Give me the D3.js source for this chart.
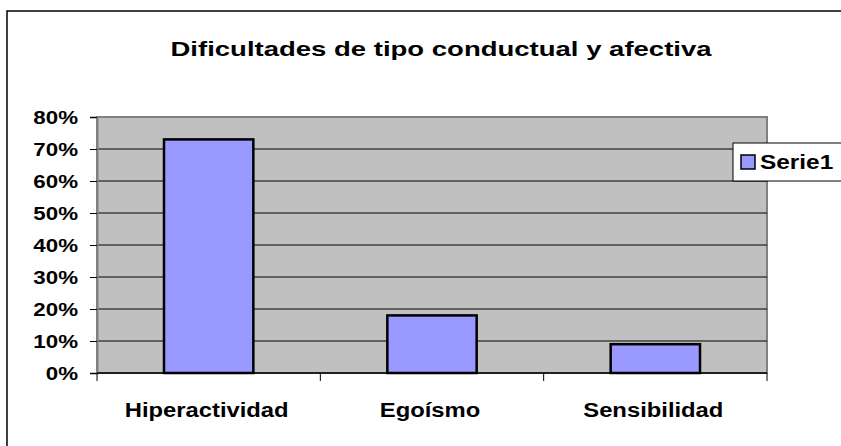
<!DOCTYPE html>
<html><head><meta charset="utf-8">
<script src="https://cdn.jsdelivr.net/npm/d3@7"></script>
<style>body{margin:0;background:#fff}svg{display:block;font-family:"Liberation Sans",Arial,sans-serif}</style>
</head><body>
<script>
const title = "Dificultades de tipo conductual y afectiva";
const categories = ["Hiperactividad", "Egoísmo", "Sensibilidad"];
const values = [0.73, 0.18, 0.09];
const seriesName = "Serie1";
const yTicks = [0, 0.1, 0.2, 0.3, 0.4, 0.5, 0.6, 0.7, 0.8];

const W = 841, H = 446;
const svg = d3.select("body").append("svg").attr("width", W).attr("height", H);

// text helper: horizontally stretched text (reference glyphs are wider than tall)
function stext(g, x, y, str, size, sx, anchor) {
  return g.append("text")
    .attr("transform", `translate(${x},${y}) scale(${sx},1)`)
    .attr("text-anchor", anchor || "start")
    .attr("font-size", size).attr("font-weight", "bold").attr("fill", "#000")
    .text(str);
}

// outer chart border
svg.append("rect").attr("x", 7).attr("y", 11).attr("width", 845).attr("height", 450)
  .attr("fill", "#fff").attr("stroke", "#000").attr("stroke-width", 1.5);

const L = 97, R = 767, T = 117, B = 373;
const x = d3.scaleBand().domain(categories).range([L, R]).paddingInner(0.6).paddingOuter(0.3);
const xc = d3.scaleBand().domain(categories).range([L, R]);
const y = d3.scaleLinear().domain([0, 0.8]).range([B, T]);

svg.append("rect").attr("x", L).attr("y", T).attr("width", R - L).attr("height", B - T)
  .attr("fill", "#C0C0C0").attr("stroke", "#808080").attr("stroke-width", 2);

// gridlines
svg.append("g").selectAll("line").data(yTicks.filter(d => d > 0 && d < 0.8)).join("line")
  .attr("x1", L).attr("x2", R).attr("y1", d => y(d)).attr("y2", d => y(d))
  .attr("stroke", "#000").attr("stroke-width", 1);

// bars
svg.append("g").selectAll("rect").data(values).join("rect")
  .attr("x", (d, i) => x(categories[i])).attr("width", x.bandwidth())
  .attr("y", d => y(d)).attr("height", d => y(0) - y(d))
  .attr("fill", "#9999FF").attr("stroke", "#000").attr("stroke-width", 2.5);

// y axis
const yAxis = d3.axisLeft(y).tickValues(yTicks).tickFormat("").tickSize(7);
const gy = svg.append("g").attr("transform", `translate(${L},0)`).call(yAxis);
gy.select(".domain").attr("stroke", "#808080").attr("stroke-width", 2);
gy.selectAll(".tick line").attr("stroke", "#000");
const fmt = d3.format(".0%");
const gyl = svg.append("g");
yTicks.forEach(t => stext(gyl, 78, y(t) + 6.5, fmt(t), 18, 1.24, "end"));

// x axis
const gx = svg.append("g").attr("transform", `translate(0,${B})`);
gx.append("line").attr("x1", L).attr("x2", R).attr("y1", 0).attr("y2", 0).attr("stroke", "#000").attr("stroke-width", 1.5);
const bounds = categories.map(c => xc(c)).concat([R]);
gx.selectAll("line.t").data(bounds).join("line").attr("class", "t")
  .attr("x1", d => d).attr("x2", d => d).attr("y1", 0).attr("y2", 8).attr("stroke", "#000").attr("stroke-width", 1);
categories.forEach(c => stext(gx, xc(c) + xc.bandwidth() / 2 - 2, 44, c, 20, 1.19, "middle"));

// title
stext(svg, 441, 56, title, 21, 1.31, "middle");

// legend
const lg = svg.append("g");
lg.append("rect").attr("x", 733).attr("y", 143).attr("width", 120).attr("height", 38)
  .attr("fill", "#fff").attr("stroke", "#000").attr("stroke-width", 1);
lg.append("rect").attr("x", 741).attr("y", 155).attr("width", 14).attr("height", 14)
  .attr("fill", "#9999FF").attr("stroke", "#000").attr("stroke-width", 1.5);
stext(lg, 760, 169, seriesName, 20, 1.22, "start");
</script>
</body></html>
